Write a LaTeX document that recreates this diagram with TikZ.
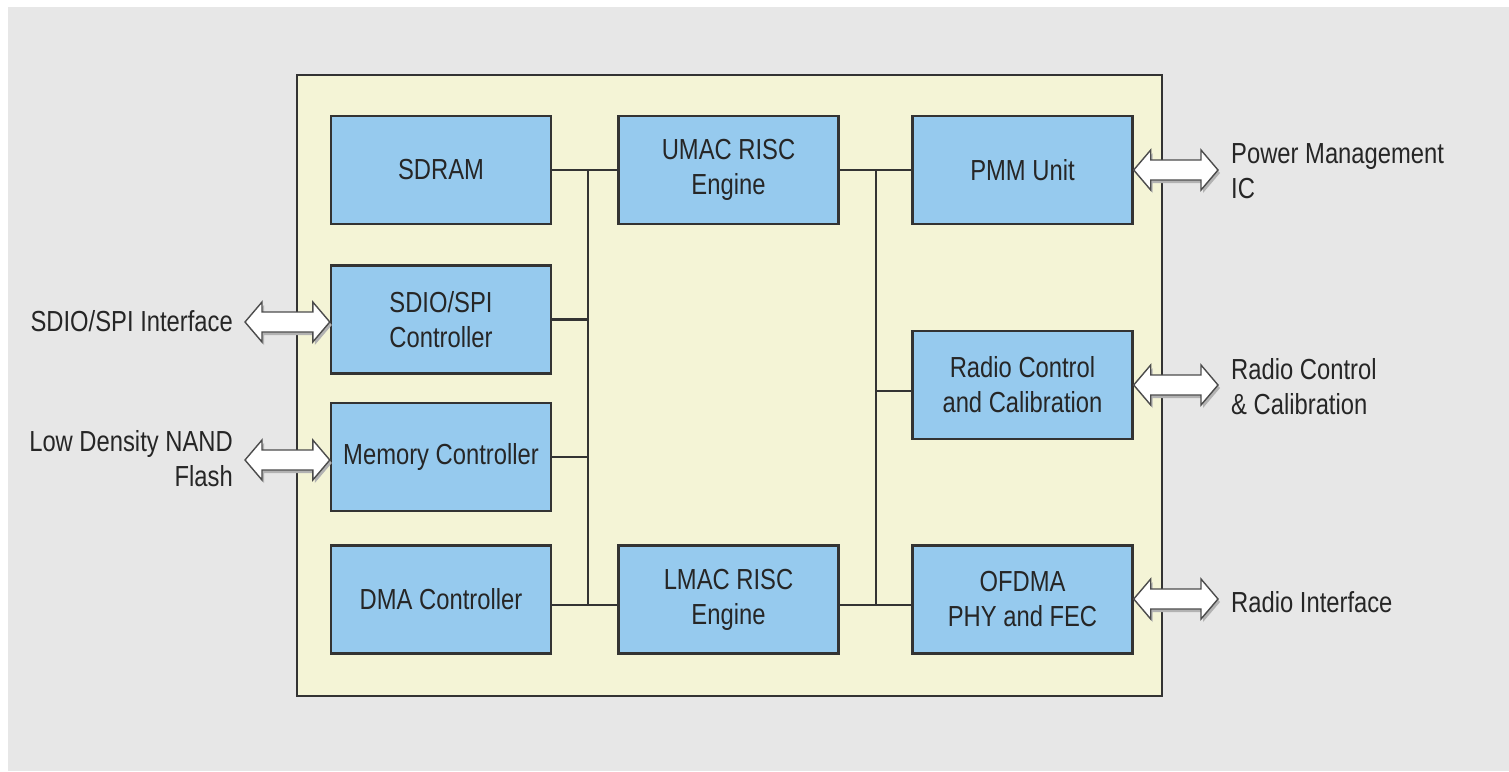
\documentclass[tikz,border=0pt]{standalone}
\usepackage{fontspec}
\setmainfont{Liberation Sans}[FakeStretch=0.82]
\usepackage{tikz}
\usetikzlibrary{positioning,calc}
\definecolor{bggray}{HTML}{E7E7E7}
\definecolor{chipcream}{HTML}{F4F4D6}
\definecolor{blockblue}{HTML}{96CAEE}
\definecolor{edgegray}{HTML}{333333}
\definecolor{inkgray}{HTML}{262626}
\tikzset{
	chipbox/.style={draw=edgegray, line width=2.4pt, fill=chipcream},
	block/.style={draw=edgegray, line width=2.4pt, fill=blockblue, minimum width=220pt, minimum height=108pt, align=center, text=inkgray, inner sep=0pt, font=\fontsize{29}{35}\selectfont},
	outlabel/.style={inner sep=0pt, text=inkgray, font=\fontsize{29}{35}\selectfont},
	bus/.style={draw=edgegray, line width=2.4pt},
	arrowbody/.style={draw=gray!60!black, line width=1.4pt, fill=white, line join=miter},
	arrowshadow/.style={draw=none, fill=gray!60, transform canvas={shift={(2pt,-3pt)}}}
}
\newcommand{\biarrow}[2]{%
	\path[arrowshadow] (#1) -- ($(#1)+(17,-20)$) -- ($(#1)+(17,-10)$) -- ($(#2)+(-17,-10)$) -- ($(#2)+(-17,-20)$) -- (#2) -- ($(#2)+(-17,20)$) -- ($(#2)+(-17,10)$) -- ($(#1)+(17,10)$) -- ($(#1)+(17,20)$) -- cycle;
	\path[arrowbody] (#1) -- ($(#1)+(17,-20)$) -- ($(#1)+(17,-10)$) -- ($(#2)+(-17,-10)$) -- ($(#2)+(-17,-20)$) -- (#2) -- ($(#2)+(-17,20)$) -- ($(#2)+(-17,10)$) -- ($(#1)+(17,10)$) -- ($(#1)+(17,20)$) -- cycle;
}

\begin{document}
\begin{tikzpicture}[x=1pt,y=-1pt,on grid]
	\useasboundingbox (0,0) rectangle (1509,771);
	\fill[white] (0,0) rectangle (1509,771);
	\fill[bggray] (8,7) rectangle (1509,771);

	\node[chipbox, minimum width=865pt, minimum height=621pt] (chip) at (729.5,385.5) {};

	\node[block] (sdram) at (441,170) {SDRAM};
	\node[block] (sdio) [below=149.5pt of sdram] {SDIO/SPI\\Controller};
	\node[block] (memctl) [below=137.5pt of sdio] {Memory Controller};
	\node[block] (dma) [below=429.5pt of sdram] {DMA Controller};
	\node[block] (umac) [right=287.5pt of sdram] {UMAC RISC\\Engine};
	\node[block] (lmac) [right=287.5pt of dma] {LMAC RISC\\Engine};
	\node[block] (pmm) [right=294pt of umac] {PMM Unit};
	\node[block] (radio) [below=215pt of pmm] {Radio Control\\and Calibration};
	\node[block] (ofdma) [right=294pt of lmac] {OFDMA\\PHY and FEC};

	\node[outlabel, anchor=east, align=right] (sdiolbl) at (233,321) {SDIO/SPI Interface};
	\node[outlabel, anchor=east, align=right] (nandlbl) at (233,459) {Low Density NAND\\Flash};
	\node[outlabel, anchor=west, align=left] (pmiclbl) at (1231,171) {Power Management\\IC};
	\node[outlabel, anchor=west, align=left] (rcallbl) at (1231,387) {Radio Control\\\& Calibration};
	\node[outlabel, anchor=west, align=left] (rifclbl) at (1231,602) {Radio Interface};

	\coordinate (lbtop) at (588,170);
	\coordinate (lbbot) at (588,605);
	\coordinate (rbtop) at (876,170);
	\coordinate (rbbot) at (876,605);
	\coordinate (rbradio) at (876,391);

	\path[bus]
		(sdram) edge (umac)
		(umac) edge (pmm)
		(lbtop) edge (lbbot)
		(rbtop) edge (rbbot)
		(sdio.east) edge (sdio.east -| lbtop)
		(memctl.east) edge (memctl.east -| lbtop)
		(dma.east |- lbbot) edge (lmac.west |- lbbot)
		(lmac.east |- rbbot) edge (ofdma.west |- rbbot)
		(rbradio) edge (rbradio -| radio.west)
	;

	\coordinate (sdioL) at (245,322);
	\coordinate (sdioR) at (sdioL -| sdio.west);
	\coordinate (nandL) at (245,460);
	\coordinate (nandR) at (nandL -| memctl.west);
	\coordinate (pmicR) at (1218,170);
	\coordinate (pmicL) at (pmicR -| pmm.east);
	\coordinate (rcalR) at (1218,385);
	\coordinate (rcalL) at (rcalR -| radio.east);
	\coordinate (rifcR) at (1218,599);
	\coordinate (rifcL) at (rifcR -| ofdma.east);

	\biarrow{sdioL}{sdioR}
	\biarrow{nandL}{nandR}
	\biarrow{pmicL}{pmicR}
	\biarrow{rcalL}{rcalR}
	\biarrow{rifcL}{rifcR}
\end{tikzpicture}
\end{document}
